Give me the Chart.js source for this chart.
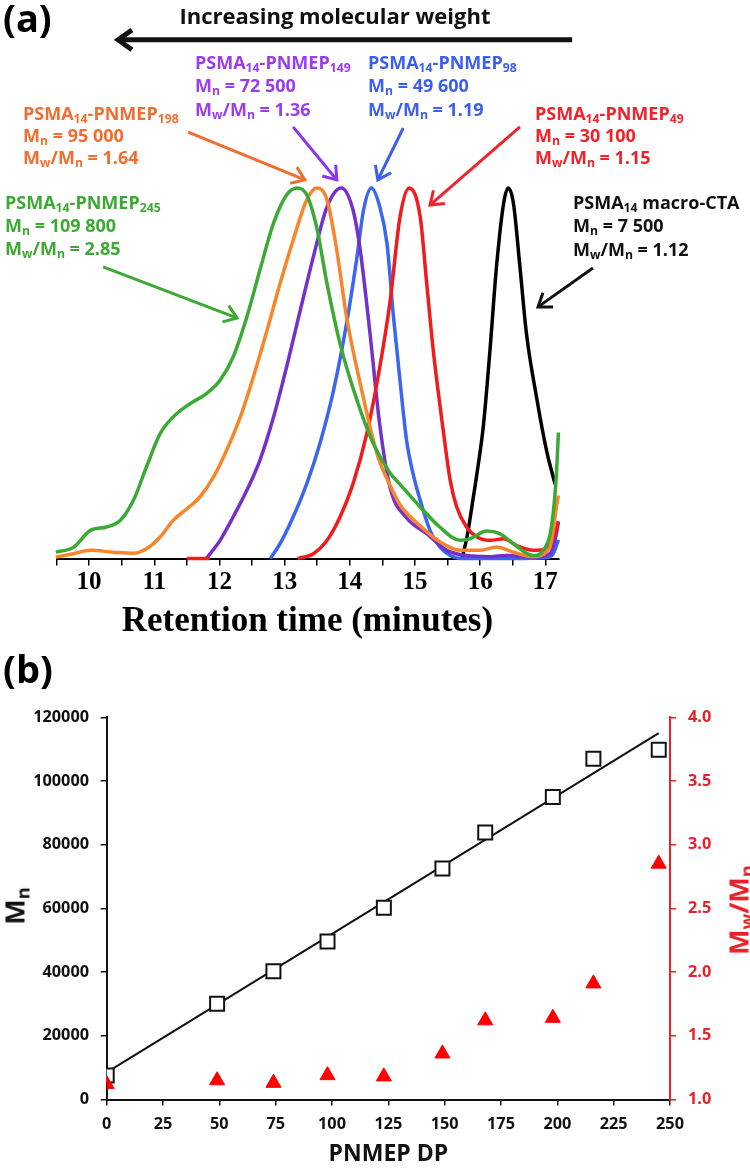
<!DOCTYPE html>
<html><head><meta charset="utf-8">
<script src="https://cdn.jsdelivr.net/npm/chart.js@4/dist/chart.umd.min.js"></script>
<style>
html,body{margin:0;padding:0;background:#fff;}
#wrap{position:relative;width:750px;height:1168px;overflow:hidden;font-family:'Open Sans',sans-serif;font-weight:700;}
canvas{position:absolute;left:0;}
#ca{top:0;}
#cb{top:650px;}
.t{position:absolute;white-space:nowrap;}
.lbl{position:absolute;font-size:18px;white-space:nowrap;}
sub{font-size:0.68em;vertical-align:-0.28em;line-height:0;}
.rot{position:absolute;transform:translate(-50%,-50%) rotate(-90deg);white-space:nowrap;}
</style></head>
<body>
<div id="wrap">
<canvas id="ca" width="750" height="650"></canvas>
<canvas id="cb" width="750" height="518"></canvas>
<div class="t" style="left:3px;top:-8px;font-size:38px;line-height:50px;">(a)</div>
<div class="t" style="left:3px;top:643px;font-size:38px;line-height:50px;">(b)</div>
<div class="t" style="left:335px;top:15px;font-size:22px;line-height:28px;transform:translate(-50%,-50%);color:#111;">Increasing molecular weight</div>
<div class="lbl" style="left:23px;top:101.5px;line-height:22px;color:#f06e30;">PSMA<sub>14</sub>-PNMEP<sub>198</sub><br>M<sub>n</sub> = 95 000<br>M<sub>w</sub>/M<sub>n</sub> = 1.64</div>
<div class="lbl" style="left:195px;top:50.5px;line-height:23.5px;color:#9b3cf0;">PSMA<sub>14</sub>-PNMEP<sub>149</sub><br>M<sub>n</sub> = 72 500<br>M<sub>w</sub>/M<sub>n</sub> = 1.36</div>
<div class="lbl" style="left:368px;top:50.5px;line-height:23.5px;color:#3c5ff0;">PSMA<sub>14</sub>-PNMEP<sub>98</sub><br>M<sub>n</sub> = 49 600<br>M<sub>w</sub>/M<sub>n</sub> = 1.19</div>
<div class="lbl" style="left:535px;top:101.5px;line-height:22px;color:#f0222a;">PSMA<sub>14</sub>-PNMEP<sub>49</sub><br>M<sub>n</sub> = 30 100<br>M<sub>w</sub>/M<sub>n</sub> = 1.15</div>
<div class="lbl" style="left:5px;top:190.5px;line-height:23px;color:#3caa32;">PSMA<sub>14</sub>-PNMEP<sub>245</sub><br>M<sub>n</sub> = 109 800<br>M<sub>w</sub>/M<sub>n</sub> = 2.85</div>
<div class="lbl" style="left:573px;top:190.5px;line-height:23.5px;color:#111;">PSMA<sub>14</sub> macro-CTA<br>M<sub>n</sub> = 7 500<br>M<sub>w</sub>/M<sub>n</sub> = 1.12</div>
<div class="rot" style="left:14px;top:906px;font-size:27px;color:#111;">M<sub>n</sub></div>
<div class="rot" style="left:738px;top:910px;font-size:27px;color:#e8202a;">M<sub>w</sub>/M<sub>n</sub></div>
</div>
<script>
// ---------- (a) GPC traces: retention time (min) and normalised RI signal ----------
const dp245T = [9.49, 9.76, 10.02, 10.27, 10.48, 10.68, 10.88, 11.09, 11.29, 11.55, 11.80, 12.01, 12.21, 12.42, 12.62, 12.83, 13.03, 13.19, 13.34, 13.49, 13.65, 13.85, 14.11, 14.36, 14.62, 14.77, 15.08, 15.38, 15.69, 15.84, 16.10, 16.30, 16.51, 16.81, 16.97, 17.10, 17.17, 17.20];
const dp245I = [0.017, 0.030, 0.076, 0.085, 0.103, 0.157, 0.247, 0.337, 0.382, 0.418, 0.445, 0.481, 0.544, 0.652, 0.778, 0.905, 0.981, 1.000, 0.981, 0.895, 0.742, 0.580, 0.427, 0.310, 0.230, 0.200, 0.139, 0.085, 0.049, 0.053, 0.074, 0.067, 0.040, 0.008, 0.022, 0.094, 0.229, 0.340];
const dp198T = [9.49, 9.76, 10.02, 10.37, 10.68, 10.88, 11.09, 11.29, 11.50, 11.70, 11.91, 12.11, 12.32, 12.52, 12.73, 12.93, 13.13, 13.34, 13.49, 13.65, 13.80, 13.95, 14.16, 14.36, 14.46, 14.57, 14.77, 15.08, 15.38, 15.69, 16.00, 16.25, 16.51, 16.81, 17.07, 17.17, 17.20];
const dp198I = [0.004, 0.013, 0.022, 0.017, 0.014, 0.026, 0.058, 0.103, 0.134, 0.166, 0.220, 0.292, 0.382, 0.490, 0.616, 0.742, 0.859, 0.968, 1.000, 0.968, 0.832, 0.652, 0.472, 0.320, 0.260, 0.215, 0.145, 0.088, 0.045, 0.022, 0.022, 0.031, 0.017, 0.005, 0.031, 0.139, 0.170];
const dp149T = [11.80, 12.01, 12.21, 12.42, 12.62, 12.83, 13.03, 13.24, 13.44, 13.65, 13.87, 14.05, 14.16, 14.31, 14.46, 14.62, 14.87, 15.18, 15.49, 15.79, 16.15, 16.40, 16.81, 17.07, 17.17, 17.20];
const dp149I = [0.000, 0.049, 0.112, 0.184, 0.265, 0.382, 0.517, 0.670, 0.814, 0.949, 1.000, 0.940, 0.832, 0.607, 0.360, 0.190, 0.110, 0.067, 0.022, 0.008, 0.005, 0.008, 0.004, 0.013, 0.067, 0.100];
const dp98T = [12.78, 12.93, 13.13, 13.34, 13.54, 13.75, 13.95, 14.11, 14.21, 14.33, 14.46, 14.57, 14.67, 14.77, 14.87, 14.97, 15.08, 15.23, 15.38, 15.54, 15.69, 16.50, 17.00, 17.12, 17.20];
const dp98I = [0.000, 0.040, 0.112, 0.202, 0.310, 0.454, 0.634, 0.814, 0.940, 1.000, 0.949, 0.850, 0.652, 0.480, 0.320, 0.229, 0.157, 0.076, 0.031, 0.008, 0.000, 0.000, 0.002, 0.013, 0.050];
// null = gap in the trace (only a short baseline piece shows before the peak)
const dp49T = [11.50, 11.85, 12.00, 13.20, 13.44, 13.65, 13.85, 14.05, 14.26, 14.46, 14.62, 14.77, 14.91, 15.08, 15.18, 15.28, 15.43, 15.54, 15.64, 15.79, 15.95, 16.15, 16.36, 16.56, 16.81, 17.02, 17.15, 17.20];
const dp49I = [0.000, 0.000, null, 0.000, 0.013, 0.049, 0.112, 0.202, 0.337, 0.517, 0.697, 0.922, 1.000, 0.922, 0.742, 0.562, 0.350, 0.211, 0.139, 0.085, 0.058, 0.049, 0.053, 0.035, 0.022, 0.026, 0.067, 0.100];
const ctaT = [15.72, 15.80, 15.89, 15.95, 16.05, 16.15, 16.25, 16.36, 16.43, 16.51, 16.61, 16.71, 16.87, 17.02, 17.15];
const ctaI = [0.000, 0.060, 0.160, 0.229, 0.360, 0.562, 0.787, 0.959, 1.000, 0.959, 0.787, 0.607, 0.430, 0.290, 0.200];
const timeTicks = [10, 11, 12, 13, 14, 15, 16, 17];

// ---------- (b) Mn and dispersity vs PNMEP DP ----------
const dpValues  = [0, 49, 74, 98, 123, 149, 168, 198, 216, 245];
const mnValues  = [7500, 30100, 40300, 49600, 60200, 72500, 83800, 95000, 107000, 109800];
const pdiValues = [1.12, 1.15, 1.13, 1.19, 1.18, 1.36, 1.62, 1.64, 1.91, 2.85];
const fitDP = [0, 245];
const fitMn = [8500, 115000];

// annotation arrows for (a), in data units [time, signal]
const arrowNotes = [
  {from:[17.41, 1.40], to:[10.445, 1.40], color:'#111111', width:5, head:17},
  {from:[11.52, 1.151], to:[13.31, 1.022], color:'#f06e30', width:3, head:15},
  {from:[13.13, 1.165], to:[13.80, 1.022], color:'#8c35ea', width:3, head:15},
  {from:[14.82, 1.162], to:[14.43, 1.022], color:'#3c5ff0', width:3, head:15},
  {from:[16.61, 1.165], to:[15.23, 0.954], color:'#f0222a', width:3, head:15},
  {from:[10.215, 0.787], to:[12.27, 0.649], color:'#3caa32', width:3, head:15},
  {from:[17.73, 0.784], to:[16.887, 0.679], color:'#111111', width:3, head:15}
];

const pts = (xs, ys) => xs.map((v, i) => ({x: v, y: ys[i]}));

const arrowPlugin = {
  id: 'arrows',
  afterDatasetsDraw(chart) {
    const {ctx, scales: {x, y}} = chart;
    ctx.save();
    ctx.lineJoin = 'miter';
    arrowNotes.forEach(a => {
      const x1 = x.getPixelForValue(a.from[0]), y1 = y.getPixelForValue(a.from[1]);
      const x2 = x.getPixelForValue(a.to[0]), y2 = y.getPixelForValue(a.to[1]);
      const ang = Math.atan2(y2 - y1, x2 - x1);
      ctx.strokeStyle = a.color; ctx.lineWidth = a.width;
      ctx.beginPath(); ctx.moveTo(x1, y1);
      ctx.lineTo(x2 - Math.cos(ang) * a.width * 0.6, y2 - Math.sin(ang) * a.width * 0.6); ctx.stroke();
      ctx.beginPath();
      ctx.moveTo(x2 - a.head * Math.cos(ang - 0.62), y2 - a.head * Math.sin(ang - 0.62));
      ctx.lineTo(x2, y2);
      ctx.lineTo(x2 - a.head * Math.cos(ang + 0.62), y2 - a.head * Math.sin(ang + 0.62));
      ctx.stroke();
    });
    ctx.restore();
  }
};

const lineDs = (label, xs, ys, color) => ({
  label, data: pts(xs, ys), borderColor: color, borderWidth: 3.5, pointRadius: 0,
  cubicInterpolationMode: 'monotone', fill: false, clip: false, spanGaps: false
});

new Chart(document.getElementById('ca'), {
  type: 'line',
  data: {
    datasets: [
      lineDs('PSMA14-PNMEP245', dp245T, dp245I, '#3aaa35'),
      lineDs('PSMA14-PNMEP198', dp198T, dp198I, '#f7862b'),
      lineDs('PSMA14-PNMEP49', dp49T, dp49I, '#f01c1c'),
      lineDs('PSMA14-PNMEP149', dp149T, dp149I, '#7330cc'),
      lineDs('PSMA14-PNMEP98', dp98T, dp98I, '#3a66f0'),
      lineDs('PSMA14 macro-CTA', ctaT, ctaI, '#000000')
    ]
  },
  options: {
    responsive: false, animation: false,
    layout: {padding: {left: 56.5, right: 191.6, top: 188, bottom: 5.5}},
    plugins: {legend: {display: false}, tooltip: {enabled: false}},
    scales: {
      x: {
        type: 'linear', min: 9.5, max: 17.2,
        afterFit(s) { s.height = 86; },
        border: {display: true, color: '#000', width: 2},
        grid: {display: true, drawOnChartArea: false, drawTicks: true, tickLength: 7, color: '#000', lineWidth: 1.5},
        ticks: {
          stepSize: 0.5, includeBounds: false, autoSkip: false, maxRotation: 0, padding: 5, color: '#000',
          font: {family: 'Liberation Serif', weight: 'bold', size: 25, lineHeight: 1},
          callback: v => timeTicks.includes(v) ? String(v) : ''
        },
        title: {display: true, text: 'Retention time (minutes)', color: '#000',
          font: {family: 'Liberation Serif', weight: 'bold', size: 35, lineHeight: 1}, padding: {top: 0, bottom: 5}}
      },
      y: {display: false, min: 0, max: 1}
    }
  },
  plugins: [arrowPlugin]
});

const labelFont = {family: 'Open Sans', weight: 'bold', size: 16.3};
new Chart(document.getElementById('cb'), {
  type: 'scatter',
  data: {
    datasets: [
      {label: 'Mw/Mn', data: pts(dpValues, pdiValues), yAxisID: 'y1', pointStyle: 'triangle', pointRadius: 8.7,
        backgroundColor: '#ff0000', borderColor: '#ff0000', borderWidth: 1},
      {label: 'Mn', data: pts(dpValues, mnValues), yAxisID: 'y', pointStyle: 'rect', pointRadius: 9.9,
        backgroundColor: '#ffffff', borderColor: '#111', borderWidth: 2},
      {label: 'fit', data: pts(fitDP, fitMn), yAxisID: 'y', showLine: true, pointRadius: 0,
        borderColor: '#111', borderWidth: 2}
    ]
  },
  options: {
    responsive: false, animation: false,
    layout: {padding: {left: 0, right: 0, top: 67.3, bottom: 0}},
    plugins: {legend: {display: false}, tooltip: {enabled: false}},
    scales: {
      x: {
        type: 'linear', min: 0, max: 250,
        afterFit(s) { s.height = 68.5; },
        border: {display: true, color: '#111', width: 2},
        grid: {drawOnChartArea: false, drawTicks: true, tickLength: 6, color: '#111', lineWidth: 1.5},
        ticks: {stepSize: 25, autoSkip: false, maxRotation: 0, padding: 9, color: '#111', font: labelFont},
        title: {display: true, text: 'PNMEP DP', color: '#111',
          font: {family: 'Open Sans', weight: 'bold', size: 23, lineHeight: 1.2}, padding: {top: 0, bottom: 0}}
      },
      y: {
        type: 'linear', position: 'left', min: 0, max: 120000,
        afterFit(s) { s.width = 106.7; },
        border: {display: true, color: '#111', width: 2},
        grid: {drawOnChartArea: false, drawTicks: true, tickLength: 6, color: '#111', lineWidth: 1.5},
        ticks: {stepSize: 20000, padding: 11.7, color: '#111', font: labelFont, callback: v => String(v)}
      },
      y1: {
        type: 'linear', position: 'right', min: 1, max: 4,
        afterFit(s) { s.width = 80; },
        border: {display: true, color: '#e8202a', width: 2},
        grid: {drawOnChartArea: false, drawTicks: true, tickLength: 6, color: '#e8202a', lineWidth: 1.5},
        ticks: {stepSize: 0.5, padding: 12, color: '#e8202a', font: labelFont, callback: v => v.toFixed(1)}
      }
    }
  }
});
</script>
</body></html>
